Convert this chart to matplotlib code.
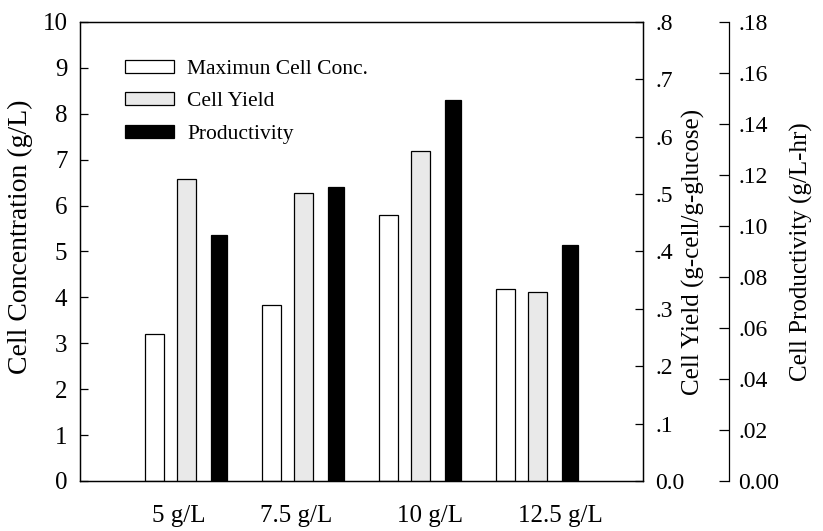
import numpy as np
import matplotlib
matplotlib.use("Agg")
import matplotlib.pyplot as plt

plt.rcParams['font.family'] = ['Liberation Serif', 'DejaVu Serif']

# data
groups = ["5 g/L", "7.5 g/L", "10 g/L", "12.5 g/L"]
label_pos = [-0.07, 0.94, 2.08, 3.20]
max_conc = [3.20, 3.83, 5.80, 4.18]        # g/L
cell_yield = [0.526, 0.502, 0.575, 0.329]  # g-cell/g-glucose
productivity = [0.0965, 0.1154, 0.1494, 0.0924]  # g/L-hr

x = np.arange(len(groups))
off = 0.274

fig = plt.figure(figsize=(8.23, 5.31), dpi=100)
ax = fig.add_axes([0.0972, 0.0942, 0.6841, 0.8644])
ax2 = ax.twinx()
ax3 = ax.twinx()

lw = 0.9
b1 = ax.bar(x - off, max_conc, width=0.158, color="white", edgecolor="black", linewidth=lw, label="Maximun Cell Conc.")
b2 = ax2.bar(x, cell_yield, width=0.158, color="#e9e9e9", edgecolor="black", linewidth=lw, label="Cell Yield")
b3 = ax3.bar(x + off, productivity, width=0.137, color="black", edgecolor="black", linewidth=lw, label="Productivity")

ax.set_xlim(-0.91, 3.902)
ax.set_ylim(0, 10)
ax.set_yticks(range(0, 11))
ax.set_xticks(label_pos)
ax.set_xticklabels(groups)
ax.tick_params(axis="x", length=0, pad=17, labelsize=18)
ax.tick_params(axis="y", direction="in", length=6, width=0.9, pad=9, labelsize=18)
ax.set_ylabel("Cell Concentration (g/L)", fontsize=20)
ax.yaxis.set_label_coords(-0.083, 0.532)

ax2.set_ylim(0, 0.8)
ax2.set_yticks(np.arange(0, 0.81, 0.1))
ax2.set_yticklabels(["0.0", ".1", ".2", ".3", ".4", ".5", ".6", ".7", ".8"])
ax2.tick_params(axis="y", direction="in", length=6, width=0.9, pad=9, labelsize=17)
ax2.set_ylabel("Cell Yield (g-cell/g-glucose)", fontsize=18)
ax2.yaxis.set_label_coords(1.069, 0.5)

ax3.set_ylim(0, 0.18)
ax3.set_yticks(np.arange(0, 0.181, 0.02))
ax3.set_yticklabels(["0.00", ".02", ".04", ".06", ".08", ".10", ".12", ".14", ".16", ".18"])
ax3.spines["right"].set_position(("axes", 1.152))
for s in ["left", "top", "bottom"]:
    ax3.spines[s].set_visible(False)
ax3.tick_params(axis="y", direction="in", length=7, width=0.9, pad=7, labelsize=17)
ax3.set_ylabel("Cell Productivity (g/L-hr)", fontsize=18)
ax3.yaxis.set_label_coords(1.261, 0.5)

for a in (ax, ax2, ax3):
    for s in a.spines.values():
        s.set_linewidth(lw)

ax3.legend(handles=[b1, b2, b3], loc="upper left", bbox_to_anchor=(0.080, 0.918),
           frameon=False, fontsize=15.5, borderaxespad=0, borderpad=0,
           handlelength=2.28, handleheight=0.56, handletextpad=0.6, labelspacing=0.62)

fig.savefig("out.png", dpi=100)
